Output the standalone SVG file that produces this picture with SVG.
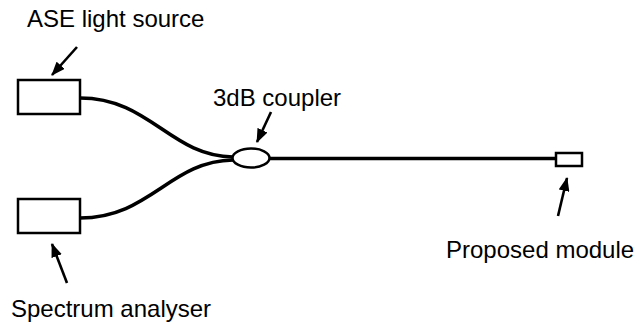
<svg xmlns="http://www.w3.org/2000/svg" width="636" height="324" viewBox="0 0 636 324">
<defs>
<style>
.lbl{font-family:"Liberation Sans",Arial,sans-serif;font-size:24px;fill:#000}
.box{fill:#fff;stroke:#000;stroke-width:2.5}
.fiber{fill:none;stroke:#000;stroke-width:3.6}
.ptr{fill:none;stroke:#000;stroke-width:2.6}
</style>
<marker id="ah" viewBox="0 0 14 11" refX="13" refY="5.5" markerWidth="14" markerHeight="11" markerUnits="userSpaceOnUse" orient="auto">
<path d="M0,0 L14,5.5 L0,11 Z" fill="#000"/>
</marker>
</defs>
<rect width="636" height="324" fill="#fff"/>
<g id="connectors">
<path class="fiber" d="M80,98 C150,98 170,156 233,157"/>
<path class="fiber" d="M80,218 C150,218 170,161 233,160"/>
<path class="fiber" d="M269,158.5 L556,158.5"/>
<path class="ptr" d="M77,47 L52,75" marker-end="url(#ah)"/>
<path class="ptr" d="M271,112 L257,142" marker-end="url(#ah)"/>
<path class="ptr" d="M67,283 L52,244" marker-end="url(#ah)"/>
<path class="ptr" d="M558,216 L567,178" marker-end="url(#ah)"/>
</g>
<g id="ase">
<rect class="box" x="18" y="80" width="62" height="34"/>
<text class="lbl" x="27" y="27">ASE light source</text>
</g>
<g id="analyser">
<rect class="box" x="18" y="199" width="62" height="34"/>
<text class="lbl" x="11" y="317">Spectrum analyser</text>
</g>
<g id="coupler">
<ellipse class="box" cx="251" cy="158" rx="18.5" ry="9.5"/>
<text class="lbl" x="213" y="106">3dB coupler</text>
</g>
<g id="module">
<rect class="box" x="556" y="153" width="26" height="13"/>
<text class="lbl" x="446" y="258">Proposed module</text>
</g>
</svg>
